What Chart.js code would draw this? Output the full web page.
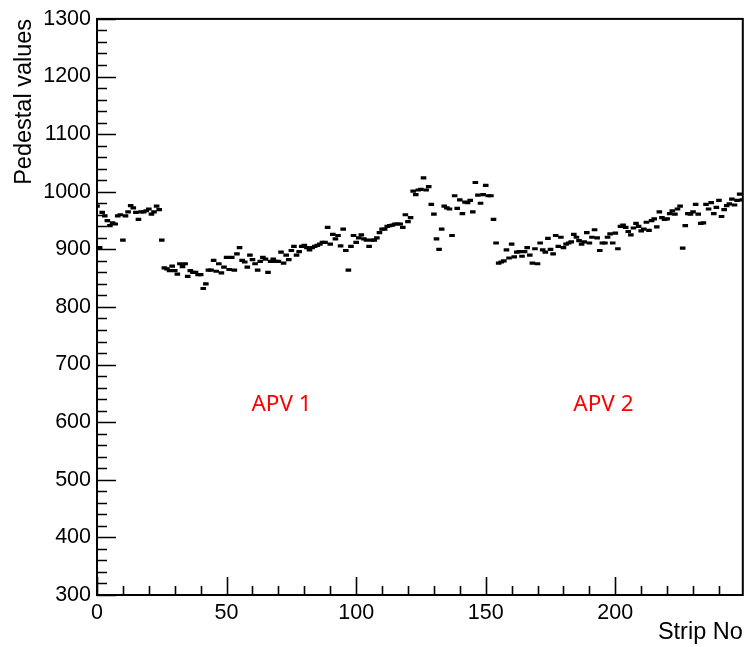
<!DOCTYPE html>
<html>
<head>
<meta charset="utf-8">
<title>Pedestal values</title>
<script src="https://cdn.jsdelivr.net/npm/chart.js@4.4.1/dist/chart.umd.min.js"></script>
<style>
  html, body { margin: 0; padding: 0; background: #fff; }
  #wrap { width: 750px; height: 647px; }
</style>
</head>
<body>
<div id="wrap"><canvas id="pedChart" width="750" height="647"></canvas></div>
<script>
// pedestal value of each strip, strip number = index
const pedestals = [
  975, 903, 964, 958, 950, 941, 946, 944, 958, 960,
  916, 958, 965, 976, 972, 964, 952, 965, 965, 967,
  970, 961, 965, 975, 969, 916, 868, 866, 863, 871,
  863, 857, 875, 870, 875, 853, 863, 860, 860, 856,
  856, 832, 840, 864, 864, 881, 862, 875, 859, 869,
  886, 865, 886, 864, 892, 903, 881, 878, 869, 890,
  882, 875, 864, 879, 886, 883, 860, 879, 883, 879,
  879, 895, 876, 890, 882, 898, 905, 890, 896, 905,
  907, 903, 899, 903, 905, 907, 909, 912, 912, 938,
  909, 926, 918, 924, 906, 935, 898, 864, 905, 924,
  912, 920, 925, 918, 916, 905, 916, 916, 920, 929,
  935, 935, 940, 941, 942, 944, 944, 944, 938, 960,
  948, 955, 1001, 995, 1003, 1004, 1024, 1003, 1009, 978,
  961, 918, 900, 935, 975, 972, 970, 924, 993, 971,
  986, 962, 982, 981, 985, 965, 1016, 994, 980, 995,
  1011, 993, 993, 952, 911, 876, 878, 880, 899, 885,
  909, 887, 895, 896, 888, 896, 903, 890, 876, 901,
  875, 911, 899, 895, 919, 900, 892, 924, 905, 921,
  903, 909, 911, 913, 926, 921, 915, 909, 913, 929,
  911, 921, 934, 920, 898, 911, 911, 921, 927, 911,
  928, 901, 940, 942, 938, 931, 925, 937, 945, 940,
  932, 935, 947, 933, 950, 953, 939, 965, 955, 952,
  953, 962, 967, 961, 970, 975, 902, 941, 962, 961,
  965, 978, 961, 945, 946, 978, 970, 981, 962, 973,
  985, 957, 969, 976, 979, 987, 977, 985, 996, 986
];
const xTicks = [0, 50, 100, 150, 200];
const yTicks = [300, 400, 500, 600, 700, 800, 900, 1000, 1100, 1200, 1300];
const apvNames = ['APV 1', 'APV 2'];

const points = pedestals.map((v, i) => ({x: i, y: v}));
const font = 'Liberation Sans, Arial, Helvetica, sans-serif';

// ROOT style frame with ticks on the inside
const rootFrame = {
  id: 'rootFrame',
  afterDraw(chart) {
    const c = chart.ctx, a = chart.chartArea;
    const xs = chart.scales.x, ys = chart.scales.y;
    c.save();
    c.strokeStyle = '#000';
    c.lineWidth = 1.6;
    c.beginPath();
    for (let v = 0; v <= 249; v += 10) {
      const px = Math.round(xs.getPixelForValue(v)) + 0.5;
      const len = v % 50 === 0 ? 18 : 9;
      c.moveTo(px, a.bottom);
      c.lineTo(px, a.bottom - len);
    }
    for (let v = 300; v <= 1300; v += 20) {
      const py = Math.round(ys.getPixelForValue(v)) + 0.5;
      const len = v % 100 === 0 ? 19 : 10;
      c.moveTo(a.left, py);
      c.lineTo(a.left + len, py);
    }
    c.stroke();
    c.lineWidth = 2;
    c.strokeRect(a.left, a.top, a.right - a.left, a.bottom - a.top);

    // red APV labels
    c.fillStyle = '#ff0000';
    c.font = '22.5px "Noto Sans", "Open Sans", sans-serif';
    c.textBaseline = 'alphabetic';
    c.textAlign = 'left';
    c.fillText(apvNames[0], xs.getPixelForValue(59.6), ys.getPixelForValue(619));
    c.fillText(apvNames[1], xs.getPixelForValue(183.8), ys.getPixelForValue(619));
    c.restore();
  }
};

new Chart(document.getElementById('pedChart'), {
  type: 'scatter',
  data: {
    datasets: [{
      data: points,
      pointStyle: 'line',
      pointRadius: 2.8,
      pointBorderWidth: 3.2,
      borderColor: '#000',
      backgroundColor: '#000'
    }]
  },
  options: {
    responsive: false,
    animation: false,
    layout: { padding: { top: 15, right: 5, left: 0, bottom: 0 } },
    plugins: { legend: { display: false }, tooltip: { enabled: false } },
    scales: {
      x: {
        type: 'linear',
        min: 0,
        max: 249.2,
        afterFit(s) { s.height = 52; },
        afterBuildTicks(s) { s.ticks = xTicks.map(v => ({value: v})); },
        grid: { display: false, drawTicks: false },
        border: { display: false },
        ticks: {
          padding: 5, color: '#000', font: { family: font, size: 21.5 },
          callback: v => String(v)
        },
        title: {
          display: true, text: 'Strip No', align: 'end', color: '#000',
          padding: { top: 0, bottom: 0 }, font: { family: font, size: 23.5 }
        }
      },
      y: {
        type: 'linear',
        min: 300,
        max: 1300,
        afterFit(s) { s.width = 97; },
        afterBuildTicks(s) { s.ticks = yTicks.map(v => ({value: v})); },
        grid: { display: false, drawTicks: false },
        border: { display: false },
        ticks: {
          padding: 6, color: '#000', font: { family: font, size: 21.5 },
          callback: v => String(v)
        },
        title: {
          display: true, text: 'Pedestal values', align: 'end', color: '#000',
          padding: { top: 10, bottom: 0 }, font: { family: font, size: 23.5 }
        }
      }
    }
  },
  plugins: [rootFrame]
});
</script>
</body>
</html>
